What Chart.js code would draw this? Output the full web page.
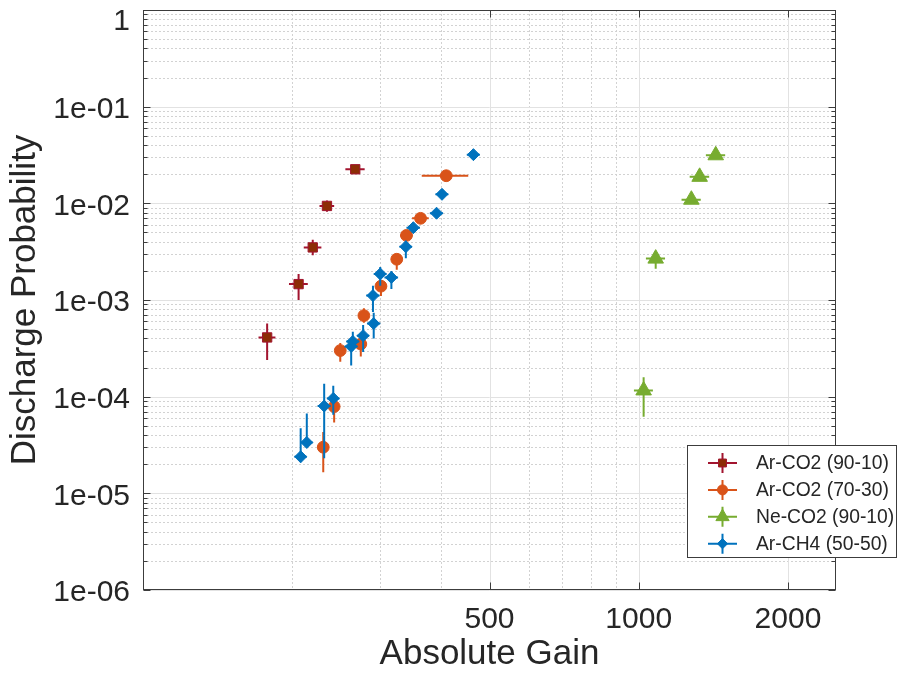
<!DOCTYPE html>
<html>
<head>
<meta charset="utf-8">
<title>Discharge Probability vs Absolute Gain</title>
<script src="https://cdn.jsdelivr.net/npm/chart.js@4.4.1/dist/chart.umd.min.js"></script>
<style>
  html, body { margin: 0; padding: 0; background: #fff; }
  #wrap { width: 899px; height: 675px; }
</style>
</head>
<body>
<div id="wrap"><canvas id="chart" width="899" height="675"></canvas></div>
<script>
// Values (gain, probability, error bounds)
const xTicks = [500, 1000, 2000];
const yTicks = [1e-6, 1e-5, 1e-4, 1e-3, 1e-2, 1e-1, 1];

// Ar-CO2 (90-10)
const arco2aGain     = [178, 206, 220, 235, 268];
const arco2aProb     = [4.1e-4, 1.46e-3, 3.5e-3, 9.4e-3, 2.25e-2];
const arco2aProbLow  = [2.4e-4, 1.0e-3, 2.9e-3, 8.2e-3, 2.1e-2];
const arco2aProbHigh = [5.7e-4, 1.86e-3, 4.2e-3, 1.07e-2, 2.4e-2];
const arco2aGainErr  = [7, 9, 9, 8, 12];

// Ar-CO2 (70-30)
const arco2bGain     = [231, 243, 250, 275, 279, 302, 325, 340, 363, 409];
const arco2bProb     = [3.0e-5, 7.9e-5, 3.0e-4, 3.5e-4, 6.9e-4, 1.39e-3, 2.64e-3, 4.66e-3, 7.0e-3, 1.93e-2];
const arco2bProbLow  = [1.65e-5, 5.4e-5, 2.3e-4, 2.6e-4, 5.8e-4, 1.1e-3, 2.05e-3, 4.1e-3, 6.4e-3, 1.85e-2];
const arco2bProbHigh = [4.3e-5, 9.5e-5, 3.6e-4, 4.0e-4, 8.2e-4, 1.58e-3, 2.95e-3, 5.2e-3, 7.6e-3, 2.0e-2];
const arco2bGainErr  = [5, 5, 5, 5, 5, 6, 8, 10, 14, 44];

// Ne-CO2 (90-10)
const neco2Gain     = [1023, 1082, 1277, 1327, 1430];
const neco2Prob     = [1.16e-4, 2.68e-3, 1.09e-2, 1.88e-2, 3.14e-2];
const neco2ProbLow  = [6.2e-5, 2.1e-3, 1.02e-2, 1.78e-2, 3.0e-2];
const neco2ProbHigh = [1.59e-4, 3.1e-3, 1.16e-2, 1.98e-2, 3.3e-2];
const neco2GainErr  = [45, 48, 57, 60, 64];

// Ar-CH4 (50-50)
const arch4Gain     = [208, 214, 232, 242, 263, 265, 278, 291, 292, 301, 317, 339, 351, 391, 401, 464];
const arch4Prob     = [2.39e-5, 3.36e-5, 8.0e-5, 9.6e-5, 3.31e-4, 3.73e-4, 4.28e-4, 1.11e-3, 5.7e-4, 1.86e-3, 1.71e-3, 3.56e-3, 5.6e-3, 7.9e-3, 1.24e-2, 3.19e-2];
const arch4ProbLow  = [2.1e-5, 3.0e-5, 2.3e-5, 6.5e-5, 2.1e-4, 3.0e-4, 2.9e-4, 7.5e-4, 4.0e-4, 1.4e-3, 1.3e-3, 2.7e-3, 5.0e-3, 7.5e-3, 1.18e-2, 3.08e-2];
const arch4ProbHigh = [4.7e-5, 6.7e-5, 1.36e-4, 1.3e-4, 4.0e-4, 4.7e-4, 5.5e-4, 1.4e-3, 7.4e-4, 2.2e-3, 2.0e-3, 4.1e-3, 6.3e-3, 8.3e-3, 1.3e-2, 3.3e-2];
const arch4GainErr  = [6, 6, 7, 7, 8, 8, 8, 9, 9, 9, 10, 10, 11, 12, 12, 14];

const FONT = "'Liberation Sans', Arial, Helvetica, sans-serif";
const TEXT = '#262626';

function points(gain, prob, lo, hi, dx) {
    return gain.map((g, i) => ({ x: g, y: prob[i], yLo: lo[i], yHi: hi[i], dx: dx[i] }));
}

function series(label, data, style, radius, fill, edge, order) {
    return {
        label, data, order,
        showLine: false,
        pointStyle: style,
        pointRadius: radius,
        pointHoverRadius: radius,
        pointBackgroundColor: fill,
        pointBorderColor: edge,
        pointBorderWidth: 1,
        errorColor: edge
    };
}

const datasets = [
    series('Ar-CO2 (90-10)', points(arco2aGain, arco2aProb, arco2aProbLow, arco2aProbHigh, arco2aGainErr), 'rect', 6.6, '#8c2d06', '#a2142f', 3),
    series('Ar-CO2 (70-30)', points(arco2bGain, arco2bProb, arco2bProbLow, arco2bProbHigh, arco2bGainErr), 'circle', 5.9, '#d95319', '#d95319', 2),
    series('Ne-CO2 (90-10)', points(neco2Gain, neco2Prob, neco2ProbLow, neco2ProbHigh, neco2GainErr), 'triangle', 9, '#77ac30', '#77ac30', 1),
    series('Ar-CH4 (50-50)', points(arch4Gain, arch4Prob, arch4ProbLow, arch4ProbHigh, arch4GainErr), 'rectRot', 6, '#0072bd', '#0072bd', 0)
];

// minor grid positions (2..9 per decade)
const xMinor = [200, 300, 400, 600, 700, 800, 900];
const yMinor = [];
for (let e = -6; e < 0; e++) for (let k = 2; k <= 9; k++) yMinor.push(k * Math.pow(10, e));

// Grid, box and inward ticks in the MATLAB style
const gridPlugin = {
    id: 'matlabGrid',
    beforeDatasetsDraw(chart) {
        const { ctx, chartArea: a, scales: { x, y } } = chart;
        const vx = v => Math.round(x.getPixelForValue(v)) + 0.5;
        const vy = v => Math.round(y.getPixelForValue(v)) + 0.5;
        ctx.save();
        ctx.lineWidth = 1;
        ctx.strokeStyle = '#d2d2d2';
        ctx.setLineDash([2, 2]);
        ctx.beginPath();
        xMinor.forEach(v => { ctx.moveTo(vx(v), a.top); ctx.lineTo(vx(v), a.bottom); });
        yMinor.forEach(v => { ctx.moveTo(a.left, vy(v)); ctx.lineTo(a.right, vy(v)); });
        ctx.stroke();
        ctx.setLineDash([]);
        ctx.strokeStyle = '#e2e2e2';
        ctx.beginPath();
        xTicks.forEach(v => { ctx.moveTo(vx(v), a.top); ctx.lineTo(vx(v), a.bottom); });
        yTicks.forEach(v => { ctx.moveTo(a.left, vy(v)); ctx.lineTo(a.right, vy(v)); });
        ctx.stroke();
        ctx.restore();
    },
    afterDatasetsDraw(chart) {
        const { ctx, chartArea: a, scales: { x, y } } = chart;
        const vx = v => Math.round(x.getPixelForValue(v)) + 0.5;
        const vy = v => Math.round(y.getPixelForValue(v)) + 0.5;
        const L = Math.round(a.left) + 0.5, R = Math.round(a.right) - 0.5;
        const T = Math.round(a.top) + 0.5, B = Math.round(a.bottom) - 0.5;
        ctx.save();
        ctx.strokeStyle = '#3c3c3c';
        ctx.lineWidth = 1;
        ctx.beginPath();
        yTicks.forEach(v => { ctx.moveTo(L, vy(v)); ctx.lineTo(L + 7, vy(v)); ctx.moveTo(R, vy(v)); ctx.lineTo(R - 7, vy(v)); });
        yMinor.forEach(v => { ctx.moveTo(L, vy(v)); ctx.lineTo(L + 4, vy(v)); ctx.moveTo(R, vy(v)); ctx.lineTo(R - 4, vy(v)); });
        xTicks.forEach(v => { ctx.moveTo(vx(v), B); ctx.lineTo(vx(v), B - 7); ctx.moveTo(vx(v), T); ctx.lineTo(vx(v), T + 7); });
        ctx.stroke();
        ctx.strokeRect(L, T, R - L, B - T);
        ctx.restore();
    }
};

// Error bars drawn just before each dataset's markers
const errorBarPlugin = {
    id: 'errorBars',
    beforeDatasetDraw(chart, args) {
        const ds = chart.data.datasets[args.index];
        const { ctx, scales: { x, y } } = chart;
        ctx.save();
        ctx.strokeStyle = ds.errorColor;
        ctx.lineWidth = 2;
        ctx.beginPath();
        ds.data.forEach(p => {
            const px = x.getPixelForValue(p.x);
            const py = y.getPixelForValue(p.y);
            ctx.moveTo(x.getPixelForValue(p.x - p.dx), py);
            ctx.lineTo(x.getPixelForValue(p.x + p.dx), py);
            ctx.moveTo(px, y.getPixelForValue(p.yLo));
            ctx.lineTo(px, y.getPixelForValue(p.yHi));
        });
        ctx.stroke();
        ctx.restore();
    }
};

function drawMarker(ctx, style, r, cx, cy) {
    ctx.beginPath();
    if (style === 'rect') {
        const s = r * Math.SQRT1_2;
        ctx.rect(cx - s, cy - s, 2 * s, 2 * s);
    } else if (style === 'circle') {
        ctx.arc(cx, cy, r, 0, Math.PI * 2);
    } else if (style === 'triangle') {
        ctx.moveTo(cx, cy - r);
        ctx.lineTo(cx + r * 0.866, cy + r / 2);
        ctx.lineTo(cx - r * 0.866, cy + r / 2);
        ctx.closePath();
    } else {
        ctx.moveTo(cx - r, cy); ctx.lineTo(cx, cy - r);
        ctx.lineTo(cx + r, cy); ctx.lineTo(cx, cy + r);
        ctx.closePath();
    }
    ctx.fill();
    ctx.stroke();
}

// Legend box overlapping the lower right corner, like the original figure
const legendPlugin = {
    id: 'boxLegend',
    afterDraw(chart) {
        const ctx = chart.ctx;
        const left = 687, top = 445, w = 210, h = 113;
        ctx.save();
        ctx.fillStyle = '#fff';
        ctx.fillRect(left, top, w, h);
        ctx.strokeStyle = '#3c3c3c';
        ctx.lineWidth = 1;
        ctx.strokeRect(left + 0.5, top + 0.5, w - 1, h - 1);
        chart.data.datasets.forEach((ds, i) => {
            const cy = 463 + i * 26.9;
            ctx.strokeStyle = ds.errorColor;
            ctx.lineWidth = 2;
            ctx.beginPath();
            ctx.moveTo(708, cy); ctx.lineTo(737, cy);
            ctx.moveTo(722.5, cy - 10); ctx.lineTo(722.5, cy + 10);
            ctx.stroke();
            ctx.fillStyle = ds.pointBackgroundColor;
            ctx.strokeStyle = ds.pointBorderColor;
            ctx.lineWidth = 1;
            drawMarker(ctx, ds.pointStyle, ds.pointRadius * 0.85, 722.5, cy);
            ctx.fillStyle = TEXT;
            ctx.font = '19.3px ' + FONT;
            ctx.textBaseline = 'middle';
            ctx.fillText(ds.label, 756, cy + 1);
        });
        ctx.restore();
    }
};

// the top label '1' sits lower than its tick in the original, pushed down with an empty first line
const yLabel = v => v === 1 ? ['', '1'] : '1e-' + String(-Math.round(Math.log10(v))).padStart(2, '0');

new Chart(document.getElementById('chart'), {
    type: 'scatter',
    data: { datasets },
    options: {
        responsive: false,
        animation: false,
        events: [],
        layout: { padding: { top: 7, right: 63, left: 0, bottom: 0 } },
        plugins: { legend: { display: false }, tooltip: { enabled: false } },
        scales: {
            x: {
                type: 'logarithmic',
                min: 100,
                max: 2500,
                bounds: 'data',
                afterBuildTicks: s => { s.ticks = xTicks.map(v => ({ value: v })); },
                afterFit: s => { s.height = 85; s.paddingLeft = 0; s.paddingRight = 0; },
                grid: { display: false, drawTicks: false },
                border: { display: false },
                ticks: {
                    autoSkip: false, maxRotation: 0, padding: 12, color: TEXT,
                    font: { family: FONT, size: 30 },
                    callback: v => String(v)
                },
                title: { display: true, text: 'Absolute Gain', color: TEXT, padding: 0, font: { family: FONT, size: 35 } }
            },
            y: {
                type: 'logarithmic',
                min: 1e-6,
                max: 1,
                bounds: 'data',
                afterBuildTicks: s => { s.ticks = yTicks.map(v => ({ value: v })); },
                afterFit: s => { s.width = 143; s.paddingTop = 0; s.paddingBottom = 0; },
                grid: { display: false, drawTicks: false },
                border: { display: false },
                ticks: {
                    autoSkip: false, padding: 13, color: TEXT, labelOffset: 3,
                    font: c => (c.tick && c.tick.value === 1)
                        ? { family: FONT, size: 30, lineHeight: 0.6 }
                        : { family: FONT, size: 30 },
                    callback: v => yLabel(v)
                },
                title: { display: true, text: 'Discharge Probability', color: TEXT, padding: { top: 4 }, font: { family: FONT, size: 35 } }
            }
        }
    },
    plugins: [gridPlugin, errorBarPlugin, legendPlugin]
});
</script>
</body>
</html>
